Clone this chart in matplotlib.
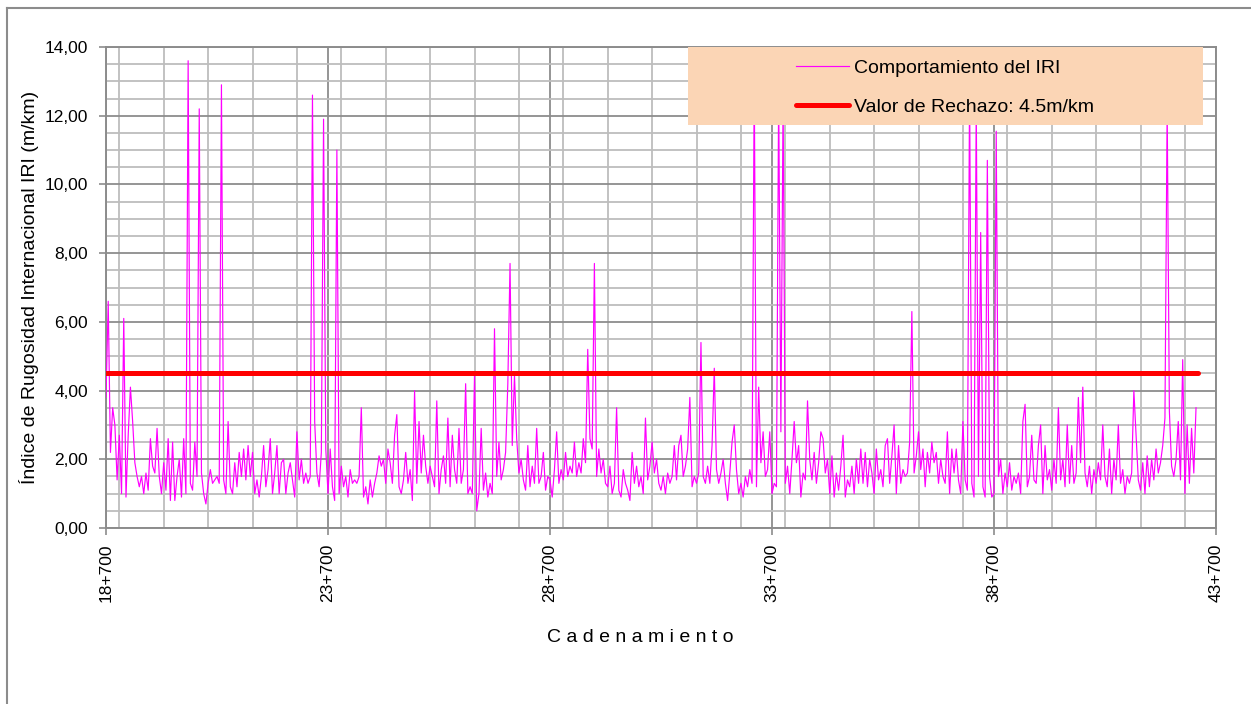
import numpy as np
import matplotlib.pyplot as plt
from matplotlib.patches import Rectangle
from matplotlib.lines import Line2D
from matplotlib.ticker import MultipleLocator, FuncFormatter

plt.rcParams['font.family'] = ['Liberation Sans', 'DejaVu Sans']

# Lecturas de IRI cada 50 m desde 18+700 (una fila = 1 km)
km_inicio = 18700
paso = 50
iri = [
    3.8, 6.6, 2.2, 3.5, 3.0, 1.4, 2.7, 1.0, 6.1, 0.9, 2.7, 4.1, 3.1, 1.9, 1.5, 1.2, 1.5, 1.0, 1.6, 1.1,
    2.6, 1.8, 1.6, 2.9, 1.5, 1.0, 1.9, 1.1, 2.6, 0.8, 2.5, 0.8, 1.5, 2.0, 0.9, 2.6, 1.0, 13.6, 1.3, 1.1,
    2.5, 1.5, 12.2, 1.6, 1.0, 0.7, 1.3, 1.7, 1.3, 1.4, 1.5, 1.3, 12.9, 1.4, 1.0, 3.1, 1.2, 1.0, 1.9, 1.2,
    2.2, 1.5, 2.3, 1.4, 2.4, 1.5, 2.2, 1.0, 1.4, 0.9, 1.5, 2.4, 1.2, 1.7, 2.6, 1.0, 1.6, 2.4, 1.0, 1.9,
    2.0, 1.0, 1.6, 1.9, 1.4, 0.9, 2.8, 1.4, 2.0, 1.3, 1.6, 1.3, 1.5, 12.6, 3.1, 1.6, 1.2, 2.2, 11.9, 2.3,
    1.0, 2.3, 1.2, 0.8, 11.0, 1.0, 1.8, 1.2, 1.5, 0.9, 1.7, 1.3, 1.4, 1.3, 1.5, 3.5, 0.9, 1.2, 0.7, 1.4,
    0.9, 1.3, 1.6, 2.1, 1.8, 2.0, 1.3, 2.3, 1.9, 1.3, 2.7, 3.3, 1.2, 1.0, 1.4, 2.2, 1.3, 1.7, 0.8, 4.0,
    1.3, 3.1, 1.6, 2.7, 1.8, 1.3, 1.8, 1.5, 1.2, 3.7, 1.0, 1.7, 2.1, 1.3, 3.2, 1.2, 2.7, 1.7, 1.3, 2.9,
    1.3, 1.7, 4.2, 1.0, 1.2, 1.0, 4.45, 0.5, 1.0, 2.9, 1.1, 1.6, 0.9, 1.3, 1.0, 5.8, 1.5, 2.5, 1.4, 1.7,
    2.2, 4.2, 7.7, 2.4, 4.45, 2.6, 1.6, 2.0, 1.4, 1.1, 2.4, 1.2, 1.8, 1.3, 2.9, 1.3, 1.5, 2.2, 1.1, 1.5,
    1.4, 0.9, 1.7, 2.8, 1.3, 1.7, 1.4, 2.2, 1.5, 1.8, 1.6, 2.5, 1.5, 1.9, 1.6, 2.6, 1.9, 5.2, 2.6, 2.3,
    7.7, 1.5, 2.3, 1.6, 2.0, 1.3, 1.2, 1.8, 1.0, 1.3, 3.5, 1.1, 0.9, 1.7, 1.3, 1.1, 0.8, 2.2, 1.3, 1.8,
    1.2, 1.5, 1.0, 3.2, 1.4, 1.8, 2.5, 1.6, 2.0, 1.3, 1.1, 1.5, 1.0, 1.6, 1.3, 1.5, 2.4, 1.4, 2.4, 2.7,
    1.5, 1.8, 2.3, 3.8, 1.2, 1.5, 1.3, 1.6, 5.4, 1.5, 1.3, 1.8, 1.3, 2.4, 4.65, 1.7, 1.3, 1.6, 2.0, 1.3,
    0.8, 1.6, 2.5, 3.0, 1.7, 1.0, 1.3, 0.9, 1.5, 1.2, 1.7, 1.3, 13.2, 1.2, 4.1, 1.9, 2.8, 1.5, 1.7, 2.8,
    1.0, 1.3, 1.2, 12.8, 2.8, 12.6, 1.3, 1.8, 1.0, 2.0, 3.1, 1.9, 2.4, 0.9, 1.6, 1.4, 3.7, 2.0, 1.4, 2.2,
    1.3, 1.9, 2.8, 2.6, 1.6, 2.0, 1.0, 2.1, 0.9, 1.6, 1.1, 1.8, 2.7, 0.9, 1.4, 1.2, 1.8, 1.0, 2.0, 1.3,
    2.3, 1.3, 2.2, 1.2, 2.0, 1.6, 1.0, 2.3, 1.4, 1.7, 1.2, 2.4, 2.6, 1.3, 2.1, 3.0, 1.0, 2.4, 1.3, 1.7,
    1.5, 1.6, 2.5, 6.3, 1.6, 2.1, 2.8, 1.7, 2.3, 1.2, 2.2, 1.6, 2.5, 1.9, 2.2, 1.3, 2.0, 1.5, 1.3, 2.8,
    1.0, 2.3, 1.6, 2.3, 1.4, 1.0, 3.1, 1.4, 1.1, 12.9, 1.3, 0.9, 12.4, 1.5, 8.6, 1.2, 0.9, 10.7, 1.5, 0.9,
    1.0, 11.55, 1.5, 2.0, 1.0, 1.6, 1.2, 1.9, 1.1, 1.5, 1.3, 1.6, 1.0, 3.1, 3.6, 1.2, 1.5, 2.7, 1.4, 1.3,
    2.4, 3.0, 1.0, 2.4, 1.4, 1.7, 1.1, 2.0, 1.3, 3.5, 1.4, 2.0, 1.2, 3.0, 1.3, 2.4, 1.3, 1.6, 3.8, 1.9,
    4.1, 1.6, 1.2, 1.8, 1.0, 1.7, 1.3, 1.9, 1.4, 3.0, 1.5, 1.2, 2.3, 1.0, 2.0, 1.4, 3.0, 1.3, 1.7, 1.0,
    1.5, 1.3, 1.6, 4.0, 2.7, 1.4, 1.1, 1.9, 1.0, 2.1, 1.2, 2.0, 1.4, 2.3, 1.6, 1.9, 2.4, 3.2, 12.3, 3.4,
    1.8, 1.5, 2.0, 3.1, 1.4, 4.9, 1.0, 3.0, 1.3, 2.9, 1.6, 3.5,
]
valor_rechazo = 4.5

cad = km_inicio + paso * np.arange(len(iri))
ticks_cad = [18700, 23700, 28700, 33700, 38700, 43700]


def fmt_cad(x, pos):
    x = int(round(x))
    return f"{x // 1000}+{x % 1000:03d}"


fig = plt.figure(figsize=(12.51, 7.04), dpi=100)
ax = fig.add_axes([106 / 1251, 1 - 528 / 704, 1110 / 1251, 481 / 704])

ax.plot(cad, iri, color='#FF00FF', linewidth=0.85, zorder=3,
        label='Comportamiento del IRI')
ax.plot([cad[0], cad[-1] + paso], [valor_rechazo, valor_rechazo], color='#FF0000',
        linewidth=3.6, solid_capstyle='round', zorder=4,
        label='Valor de Rechazo: 4.5m/km')

ax.set_xlim(18700, 43700)
ax.set_ylim(0, 14)
ax.set_xticks(ticks_cad)
ax.xaxis.set_minor_locator(MultipleLocator(1000))
ax.yaxis.set_major_locator(MultipleLocator(2))
ax.yaxis.set_minor_locator(MultipleLocator(0.5))
ax.xaxis.set_major_formatter(FuncFormatter(fmt_cad))
ax.yaxis.set_major_formatter(FuncFormatter(lambda v, p: f"{v:.2f}".replace('.', ',')))

# rejilla principal y secundaria
ax.grid(which='major', color='#8c8c8c', linewidth=1.3, zorder=0)
ax.grid(which='minor', color='#bdbdbd', linewidth=1.3, zorder=0)
ax.set_axisbelow(True)

for s in ax.spines.values():
    s.set_color('#8c8c8c')
    s.set_linewidth(1.4)

ax.tick_params(axis='both', which='major', direction='out', length=5, width=1.2,
               color='#8c8c8c', labelsize=12.5)
ax.tick_params(axis='both', which='minor', length=0)
ax.tick_params(axis='y', pad=8)
ax.tick_params(axis='x', pad=6, labelrotation=90)

ax.set_ylabel('Índice de Rugosidad Internacional IRI (m/km)', fontsize=14, labelpad=4)
ax.set_xlabel('C a d e n a m i e n t o', fontsize=14)
ax.xaxis.set_label_coords(534 / 1110, -(637 - 528) / 481)
ax.xaxis.label.set_va('center')

# caja de la leyenda
caja = Rectangle((582 / 1110, 1 - 78 / 481), 515 / 1110, 78 / 481,
                 transform=ax.transAxes, facecolor='#FBD5B5', edgecolor='none',
                 zorder=5, clip_on=False)
ax.add_patch(caja)
leg = ax.legend(loc='upper left', bbox_to_anchor=(690 / 1110, 1 - 12 / 481),
                frameon=False, fontsize=14, handlelength=2.7, handletextpad=0.3,
                labelspacing=1.12, borderpad=0, borderaxespad=0)
leg.set_zorder(6)

# marco exterior del gráfico
fig.add_artist(Line2D([7 / 1251, 7 / 1251], [0, 1 - 8 / 704], color='#8c8c8c', linewidth=1.5))
fig.add_artist(Line2D([7 / 1251, 1], [1 - 8 / 704, 1 - 8 / 704], color='#8c8c8c', linewidth=1.5))

fig.savefig('out.png', dpi=100)
